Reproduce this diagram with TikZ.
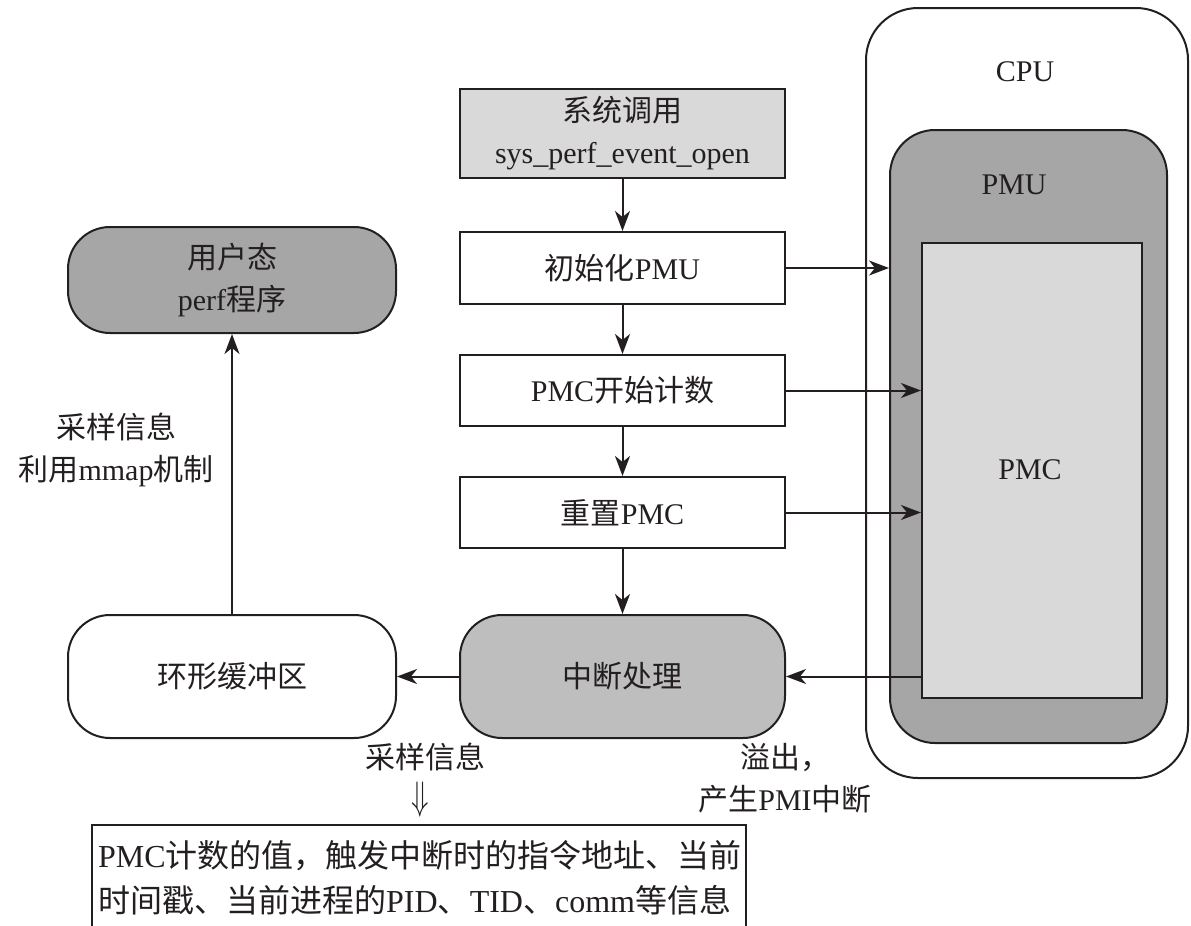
\documentclass[tikz,border=0pt]{standalone}
\usepackage{fontspec}
\setmainfont{Liberation Serif}
\newfontfamily\cjk{Noto Sans CJK SC}
\usetikzlibrary{arrows.meta}
\newcommand\zh[1]{{\cjk #1}}
\definecolor{ink}{HTML}{231F20}
\definecolor{lightg}{HTML}{D9D9D9}
\definecolor{midg}{HTML}{BEBEBE}
\definecolor{darkg}{HTML}{A6A6A6}
\begin{document}
\begin{tikzpicture}[x=1pt,y=-1pt,
  every node/.style={text=ink, font=\fontsize{30}{42}\selectfont},
  box/.style={draw=ink, line width=2pt, minimum width=325, minimum height=72, inner sep=0pt, align=center},
  rbox/.style={box, rounded corners=42pt},
  arr/.style={draw=ink, line width=2pt, -{Stealth[length=20pt,width=15pt,inset=6pt]}},
  lbl/.style={inner sep=0pt, align=center}
]
\useasboundingbox (0,0) rectangle (1191,926);
% CPU
\node[draw=ink, line width=2pt, rounded corners=52pt, minimum width=322, minimum height=770, inner sep=0pt] (cpu) at (1027,393) {};
\node[lbl] (cpulbl) at (1025,72) {CPU};
\node[draw=ink, fill=darkg, line width=2pt, rounded corners=45pt, minimum width=277, minimum height=613, inner sep=0pt] (pmu) at (1028.5,436.5) {};
\node[lbl] (pmulbl) at (1014,185) {PMU};
\node[draw=ink, fill=lightg, line width=2pt, minimum width=220, minimum height=455, inner sep=0pt] (pmc) at (1032,470.5) {};
\node[lbl] (pmclbl) at (1030,470) {PMC};
% center column
\node[box, fill=lightg, minimum height=89] (sys) at (622.5,133.5) {\zh{系统调用}\\sys\_perf\_event\_open};
\node[box] (init) at (622.5,268) {\zh{初始化}PMU};
\node[box, minimum height=71] (start) at (622.5,390.5) {PMC\zh{开始计数}};
\node[box, minimum height=71] (reset) at (622.5,512.5) {\zh{重置}PMC};
\node[rbox, fill=midg, minimum height=123] (intr) at (622.5,676.5) {\zh{中断处理}};
% left column
\node[rbox, minimum width=328, minimum height=123] (ring) at (232,676.5) {\zh{环形缓冲区}};
\node[rbox, fill=darkg, minimum width=328, minimum height=106] (user) at (232,280) {\zh{用户态}\\perf\zh{程序}};
% arrows
\draw[arr] (sys) -- (init);
\draw[arr] (init) -- (start);
\draw[arr] (start) -- (reset);
\draw[arr] (reset) -- (intr);
\draw[arr] (init.east) -- (init.east -| pmu.west);
\draw[arr] (start.east) -- (start.east -| pmc.west);
\draw[arr] (reset.east) -- (reset.east -| pmc.west);
\draw[arr] (pmc.west |- intr.east) -- (intr.east);
\draw[arr] (intr.west) -- (ring.east);
\draw[arr] (ring.north) -- (user.south);
% labels
\node[lbl] (mmap) at (116,450) {\zh{采样信息}\\\zh{利用}mmap\zh{机制}};
\node[lbl] (samp) at (425,757) {\zh{采样信息}};
\node[lbl] (darr) at (420,800) {\scalebox{1.15}[1.6]{$\Downarrow$}};
\node[lbl] (ovf) at (785,778) {\zh{溢出，}\\\zh{产生}PMI\zh{中断}};
% bottom box
\coordinate (bl) at (92,926);
\coordinate (tl) at (92,825);
\coordinate (tr) at (746,825);
\coordinate (br) at (746,926);
\draw[ink, line width=2pt] (bl) -- (tl) -- (tr) -- (br);
\node[lbl, align=left, anchor=north west, font=\fontsize{32}{45}\selectfont] (info) at (98,840) {PMC\zh{计数的值，触发中断时的指令地址、当前}\\\zh{时间戳、当前进程的}PID\zh{、}TID\zh{、}comm\zh{等信息}};
\end{tikzpicture}
\end{document}
